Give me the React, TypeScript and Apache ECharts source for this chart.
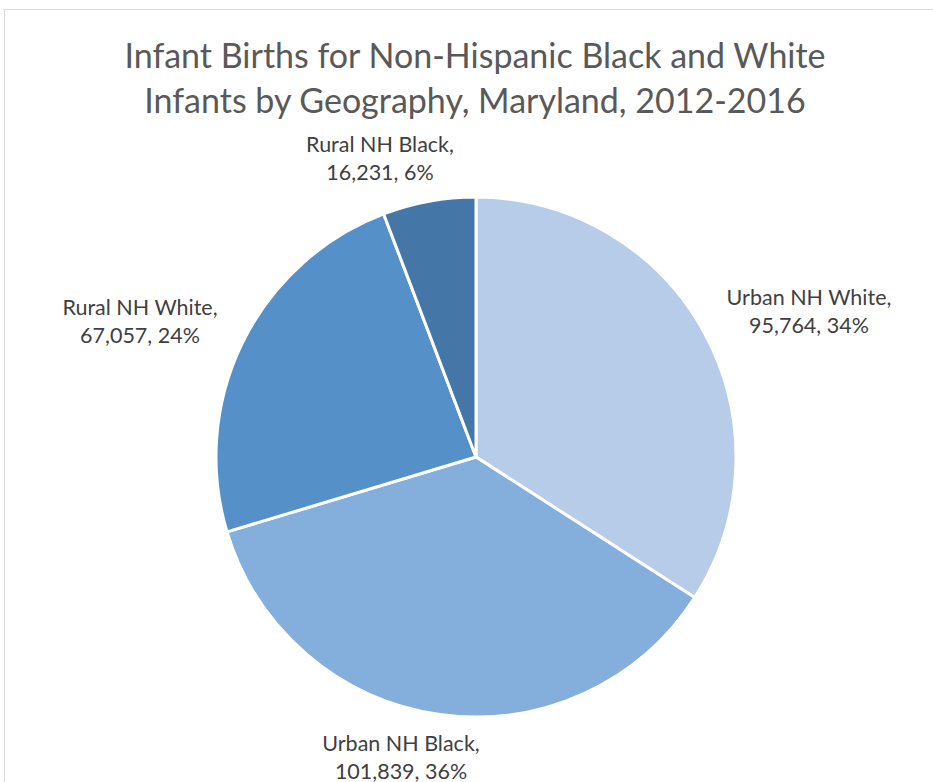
import React, { useEffect, useRef } from "react";
import * as echarts from "echarts";

const categories = ["Urban NH White", "Urban NH Black", "Rural NH White", "Rural NH Black"];
const births = [95764, 101839, 67057, 16231];
const sliceColors = ["#B7CCE8", "#84AEDB", "#5591C8", "#4477A8"];
const titleText = "Infant Births for Non-Hispanic Black and White\nInfants by Geography, Maryland, 2012-2016";

// label anchor centres (layout, px)
const labelCenters = [
  [809, 311],
  [401, 757],
  [140, 321],
  [380, 158],
];

export default function App() {
  const ref = useRef<HTMLDivElement>(null);
  useEffect(() => {
    if (!ref.current) return;
    const chart = echarts.init(ref.current, null, { renderer: "svg" });
    chart.setOption({
      animation: false,
      backgroundColor: "#ffffff",
      title: {
        text: titleText,
        left: 470,
        top: 27,
        textAlign: "center",
        textStyle: {
          fontFamily: "Lato",
          fontSize: 34,
          fontWeight: "normal",
          color: "#595959",
          lineHeight: 45,
        },
      },
      graphic: [
        {
          type: "rect",
          shape: { x: 4.5, y: 9.5, width: 960, height: 820 },
          style: { fill: "none", stroke: "#d9d9d9", lineWidth: 1 },
          silent: true,
        },
      ],
      series: [
        {
          type: "pie",
          center: [476, 457],
          radius: 260,
          startAngle: 90,
          clockwise: true,
          data: categories.map((c, i) => ({
            name: c,
            value: births[i],
            itemStyle: { color: sliceColors[i] },
          })),
          itemStyle: { borderColor: "#ffffff", borderWidth: 3 },
          label: {
            show: true,
            position: "outside",
            fontFamily: "Lato",
            fontSize: 21.5,
            lineHeight: 28,
            color: "#404040",
            align: "center",
            formatter: (p: any) =>
              `${p.name},\n${Number(p.value).toLocaleString("en-US")}, ${Math.round(p.percent)}%`,
          },
          labelLine: { show: false },
          labelLayout: (params: any) => {
            const c = labelCenters[params.dataIndex];
            return { x: c[0], y: c[1], align: "center", verticalAlign: "middle" };
          },
          emphasis: { disabled: true },
        },
      ],
    });
    return () => chart.dispose();
  }, []);
  return (
    <div
      ref={ref}
      style={{ position: "absolute", left: 0, top: 0, width: 933, height: 782 }}
    />
  );
}
